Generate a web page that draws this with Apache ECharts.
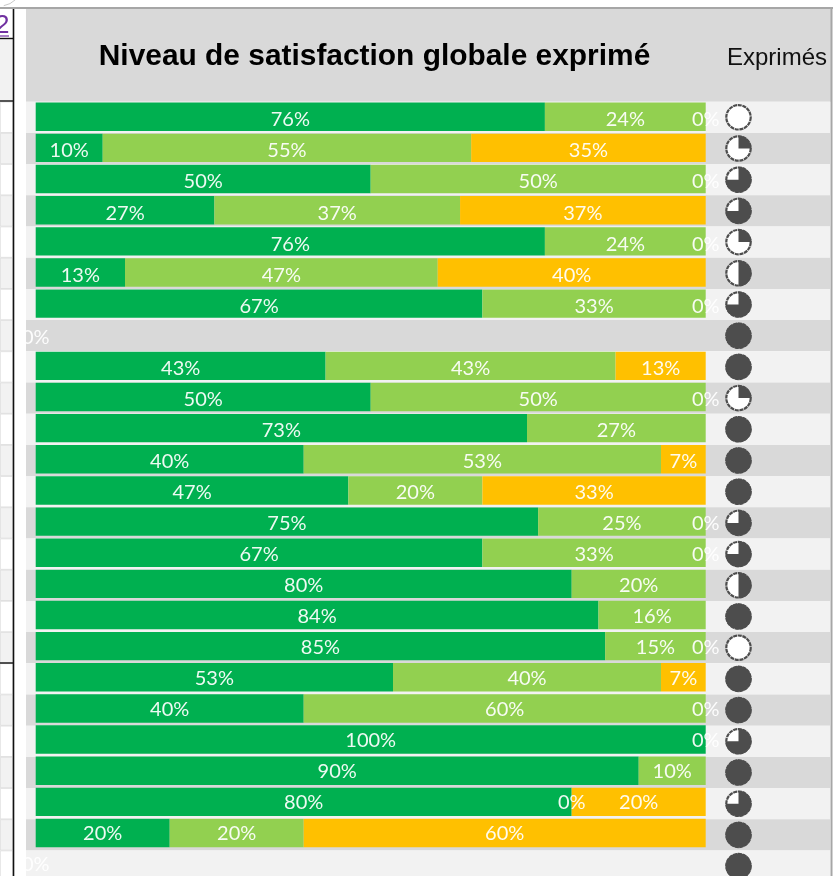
<!DOCTYPE html>
<html>
<head>
<meta charset="utf-8">
<style>html,body{margin:0;padding:0;background:#fff;overflow:hidden;height:876px}#c{width:833px;height:900px}</style>
<script src="https://cdn.jsdelivr.net/npm/echarts@6/dist/echarts.min.js"></script>
</head>
<body>
<div id="c"></div>
<script>
const titleText = 'Niveau de satisfaction globale exprimé';
const columnText = 'Exprimés';
const rows = Array.from({length: 25}, (_, i) => 'L' + (i + 1));
// null = no label shown in the reference; 0 = a "0%" label is shown
const green = [76,10,50,26.67,76,13.33,66.67,null,43.27,50,73.33,40,46.67,75,66.67,80,84,85,53.33,40,100,90,80,20,null];
const lime = [24,55,50,36.67,24,46.67,33.33,null,43.28,50,26.67,53.33,20,25,33.33,20,16,15,40,60,null,10,0,20,null];
const orange = [0,35,0,36.67,0,40,0,0,13.45,0,null,6.67,33.33,0,0,null,null,0,6.67,0,0,null,20,60,0];
// Share of each Harvey ball filled dark, clockwise from 12 o'clock
const expressed = [0,25,75,75,25,50,75,100,100,25,100,100,100,75,75,50,100,0,100,100,75,100,75,100,100];

const stripeY = {top: 101.7, height: 31.2 * rows.length};
const barY = {top: 101.2, height: 31.14 * rows.length};
const grids = [
  {left: 26, width: 804, ...stripeY},   // row stripes
  {left: 35.7, width: 670, ...barY},    // stacked bars
  {left: 725.5, width: 26, ...stripeY}, // Harvey balls
  {left: 0, width: 13, ...stripeY}      // stripes of the cropped table on the left
];
const xAxes = grids.map((g, i) => ({gridIndex: i, type: 'value', min: 0, max: i === 1 ? 100 : 1, show: false}));
const yAxes = grids.map((g, i) => ({gridIndex: i, type: 'category', data: rows, inverse: true, show: false}));

const font = {color: 'rgba(255,255,255,0.93)', fontFamily: 'Lato', fontSize: 20};
function stacked(name, values, color) {
  return {
    name, type: 'bar', stack: 'sat', xAxisIndex: 1, yAxisIndex: 1, barWidth: 28.4, z: 3,
    data: values.map(v => (v === null ? '-' : v)),
    itemStyle: {color},
    label: {show: true, position: 'inside', ...font, formatter: p => Math.round(p.value) + '%'},
    labelLayout: p => ({dy: 3.2 - 2.4 * p.dataIndex / 23})
  };
}
function stripes(gridIndex, even, odd, z, border) {
  return {
    type: 'bar', xAxisIndex: gridIndex, yAxisIndex: gridIndex, barWidth: '100%', z, silent: true,
    data: rows.map((_, i) => ({value: 1, itemStyle: {color: i % 2 ? odd : even, borderColor: border, borderWidth: border ? 0.7 : 0}}))
  };
}
function harvey(params, api) {
  const c = api.coord([0.5, api.value(0)]);
  const r = 12.2, frac = api.value(1) / 100, start = -Math.PI / 2;
  const children = [{type: 'circle', shape: {cx: c[0], cy: c[1], r}, style: {fill: '#fff', stroke: '#4d4d4d', lineWidth: 2.2, lineDash: [4, 0.7]}}];
  if (frac >= 1) {
    children.push({type: 'circle', shape: {cx: c[0], cy: c[1], r: r + 0.7}, style: {fill: '#4d4d4d'}});
  } else if (frac > 0) {
    children.push({type: 'sector', shape: {cx: c[0], cy: c[1], r0: 0, r: r + 0.7, startAngle: start, endAngle: start + frac * 2 * Math.PI}, style: {fill: '#4d4d4d'}});
  }
  return {type: 'group', children};
}

const chart = echarts.init(document.getElementById('c'), null, {renderer: 'canvas'});
chart.setOption({
  animation: false,
  backgroundColor: '#fff',
  grid: grids,
  xAxis: xAxes,
  yAxis: yAxes,
  title: [
    {text: titleText, left: 369.5, top: 52, textAlign: 'center', textVerticalAlign: 'middle', textStyle: {fontFamily: 'Liberation Sans', fontWeight: 'bold', fontSize: 29.9, color: '#000'}},
    {text: columnText, left: 722, top: 53, textVerticalAlign: 'middle', textStyle: {fontFamily: 'Liberation Sans', fontWeight: 'normal', fontSize: 24, color: '#111'}}
  ],
  graphic: [
    {type: 'rect', z: -10, shape: {x: 26, y: 9, width: 805, height: 92.7}, style: {fill: '#d9d9d9'}},
    {type: 'rect', z: -10, shape: {x: 0, y: 39, width: 13, height: 62}, style: {fill: '#f2f2f2'}},
    {type: 'line', z: 50, shape: {x1: 13.5, y1: 9, x2: 13.5, y2: 876}, style: {stroke: '#111', lineWidth: 1.6}},
    {type: 'line', z: 50, shape: {x1: 0, y1: 38.5, x2: 13, y2: 38.5}, style: {stroke: '#111', lineWidth: 1.4}},
    {type: 'line', z: 50, shape: {x1: 0, y1: 101, x2: 13, y2: 101}, style: {stroke: '#111', lineWidth: 1.4}},
    {type: 'line', z: 50, shape: {x1: 0, y1: 663, x2: 13, y2: 663}, style: {stroke: '#111', lineWidth: 1.4}},
    {type: 'line', z: 50, shape: {x1: 0, y1: 8, x2: 833, y2: 8}, style: {stroke: '#a6a6a6', lineWidth: 2}},
    {type: 'line', z: 50, shape: {x1: 831.5, y1: 8, x2: 831.5, y2: 876}, style: {stroke: '#a6a6a6', lineWidth: 2}},
    {type: 'text', z: 50, style: {x: -5, y: 13, text: '2', fill: '#7030a0', font: '26px "Liberation Sans"'}},
    {type: 'line', z: 50, shape: {x1: 0, y1: 36, x2: 9, y2: 36}, style: {stroke: '#7030a0', lineWidth: 1.2}},
    {type: 'arc', z: 50, shape: {cx: 0, cy: -16, r: 22, startAngle: 0.2, endAngle: 1.4}, style: {stroke: '#c8c8c8', fill: null, lineWidth: 1}}
  ],
  series: [
    stripes(0, '#f2f2f2', '#d9d9d9', 1),
    stripes(3, '#ffffff', '#f2f2f2', 1, '#d9d9d9'),
    stacked('Satisfait', green, '#00b050'),
    stacked('Plutôt satisfait', lime, '#92d050'),
    stacked('Peu satisfait', orange, '#ffc000'),
    {
      type: 'custom', xAxisIndex: 2, yAxisIndex: 2, z: 4, renderItem: harvey,
      encode: {y: 0}, clip: false,
      data: expressed.map((v, i) => [i, v])
    }
  ]
});
</script>
</body>
</html>
